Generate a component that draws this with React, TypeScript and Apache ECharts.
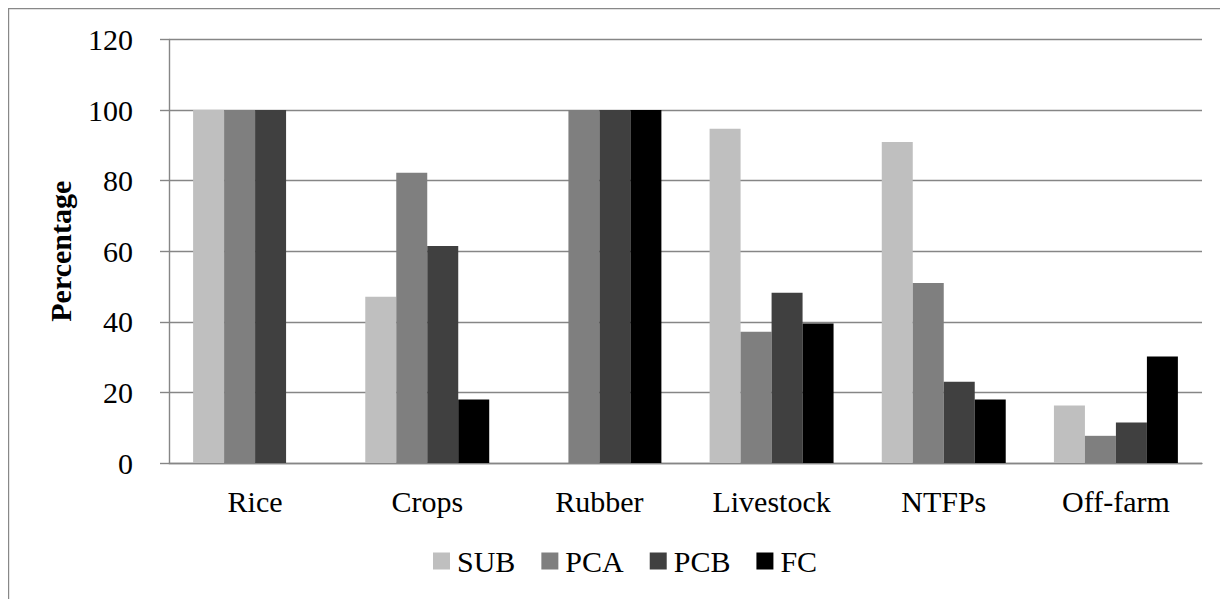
import React, { useEffect, useRef } from "react";
import * as echarts from "echarts";

const categories = ["Rice", "Crops", "Rubber", "Livestock", "NTFPs", "Off-farm"];
const seriesNames = ["SUB", "PCA", "PCB", "FC"];
const subValues = [100, 47.1, null, 94.7, 90.9, 16.3];
const pcaValues = [100, 82.2, 100, 37.2, 51, 7.7];
const pcbValues = [100, 61.5, 100, 48.2, 23, 11.5];
const fcValues = [null, 18, 100, 39.5, 18, 30.2];
const seriesColors = ["#bfbfbf", "#7f7f7f", "#404040", "#000000"];
const yTicks = { min: 0, max: 120, interval: 20 };

export default function App() {
  const ref = useRef<HTMLDivElement>(null);
  useEffect(() => {
    if (!ref.current) return;
    const chart = echarts.init(ref.current, null, { renderer: "svg" });
    const font = "Liberation Serif, Times New Roman, serif";
    const values = [subValues, pcaValues, pcbValues, fcValues];
    chart.setOption({
      animation: false,
      backgroundColor: "#ffffff",
      textStyle: { fontFamily: font },
      graphic: [
        {
          type: "rect",
          shape: { x: 0.6, y: 0.6, width: 3000, height: 3000 },
          style: { fill: "none", stroke: "#888888", lineWidth: 1.2 },
          silent: true,
        },
      ],
      grid: { left: 161, right: 26, top: 31.4, bottom: 136, containLabel: false },
      legend: {
        data: seriesNames,
        left: 425,
        top: 538,
        padding: 0,
        icon: "rect",
        itemWidth: 17,
        itemHeight: 17,
        itemGap: 26,
        textStyle: { fontFamily: font, fontSize: 30, color: "#000", padding: [0, 0, 0, 2] },
      },
      xAxis: {
        type: "category",
        data: categories,
        axisLine: { show: true, lineStyle: { color: "#868686", width: 1.4 } },
        axisTick: { show: false },
        axisLabel: { fontFamily: font, fontSize: 30, color: "#000", margin: 23 },
      },
      yAxis: {
        type: "value",
        min: yTicks.min,
        max: yTicks.max,
        interval: yTicks.interval,
        name: "Percentage",
        nameLocation: "middle",
        nameGap: 94,
        nameRotate: 90,
        nameTextStyle: { fontFamily: font, fontSize: 30, fontWeight: "bold", color: "#000" },
        axisLine: { show: true, lineStyle: { color: "#868686", width: 1.4 } },
        axisTick: { show: true, inside: false, length: 9, lineStyle: { color: "#868686", width: 1.4 } },
        splitLine: { show: true, lineStyle: { color: "#868686", width: 1.4 } },
        axisLabel: { fontFamily: font, fontSize: 30, color: "#000", margin: 36 },
      },
      series: seriesNames.map((name, i) => ({
        name,
        type: "bar",
        data: values[i],
        barGap: "0%",
        barCategoryGap: "28%",
        itemStyle: { color: seriesColors[i] },
      })),
    });
    return () => chart.dispose();
  }, []);
  return <div ref={ref} style={{ width: 1220, height: 591 }} />;
}
